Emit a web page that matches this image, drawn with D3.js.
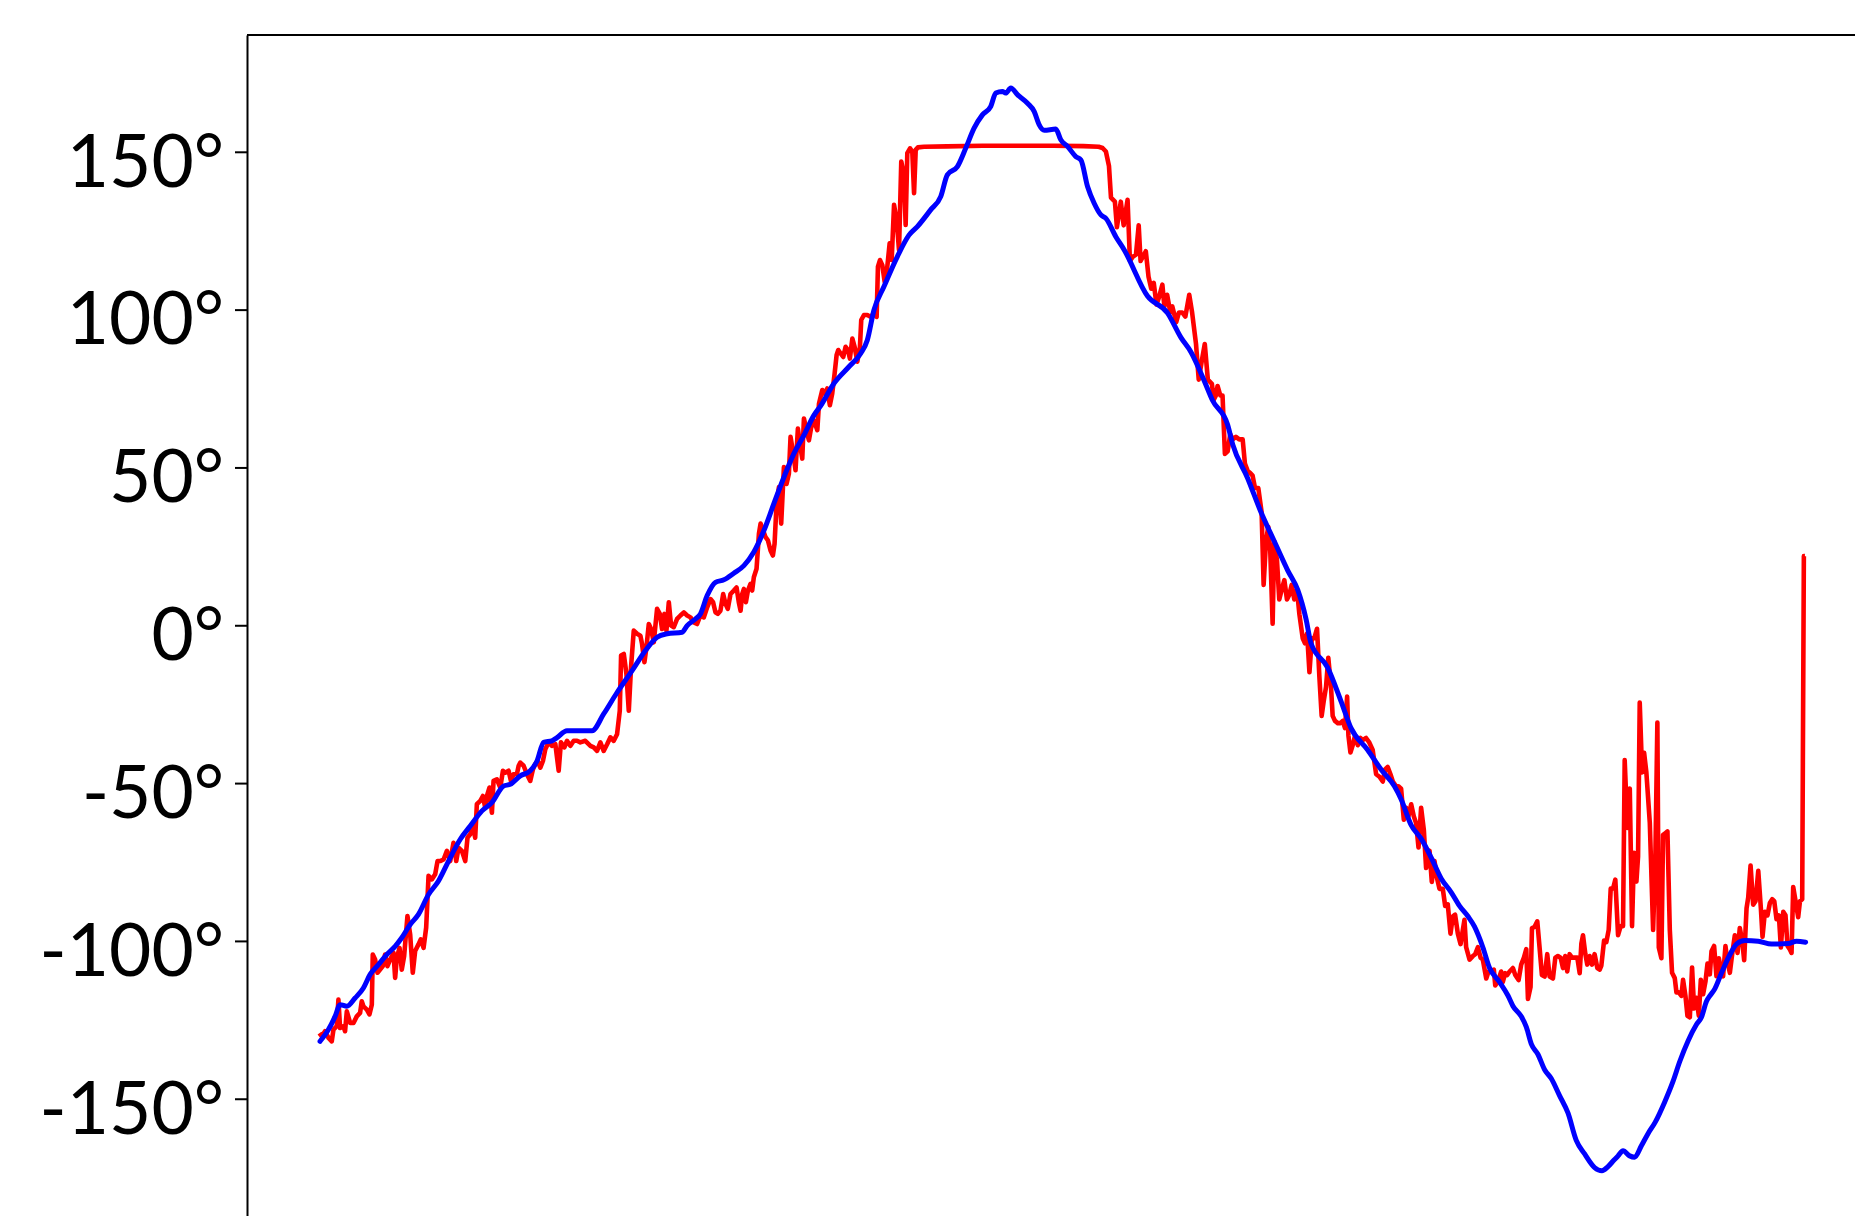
<!DOCTYPE html>
<html>
<head>
<meta charset="utf-8">
<script src="https://cdn.jsdelivr.net/npm/d3@7"></script>
<style>
  body { margin: 0; background: #fff; overflow: hidden; }
</style>
</head>
<body>
<div id="chart"></div>
<script>
// heading angle, raw (red) and filtered (blue), [sample, degrees]
const y_ticks = [-150, -100, -50, 0, 50, 100, 150]

const raw_angle = [
  [0,-129.2],[1.9,-130.2],[4.7,-128.6],[7.6,-130.7],[10.4,-131.8],[11.8,-128.1],[14.6,-127],[16,-118.6],[17.4,-127.6],[20.2,-127],
  [21.6,-128.6],[23.1,-122.3],[25.9,-126],[28.7,-126],[31.5,-123.9],[34.3,-122.8],[35.7,-119.1],[37.1,-120.7],[40,-121.8],[42.2,-123.3],
  [44.2,-120.2],[45,-104.3],[47,-105.9],[49,-110.1],[51.2,-109.1],[53.5,-108],[55.4,-104.3],[57.4,-108],[59.7,-105.9],[62.5,-103.8],
  [63.9,-111.7],[65.3,-105.4],[67.6,-102.2],[69.5,-109.1],[71.5,-104.8],[74.3,-92.1],[76.6,-98],[78.8,-110.1],[80.8,-103.2],[83.6,-101.1],
  [85.6,-99.5],[87.9,-102.2],[90.1,-95.8],[92.1,-79.4],[94.9,-80.5],[97.7,-78.9],[99.7,-74.7],[101.9,-74.7],[104.8,-74.2],[107.6,-71.5],
  [110.4,-74.7],[113.2,-68.9],[115.5,-74.7],[117.4,-70.5],[120.3,-71.5],[123.1,-74.7],[125,-67.3],[127.3,-66.2],[129.6,-63.6],[131.5,-67.3],
  [132.9,-56.7],[135.8,-55.6],[138,-54.1],[140,-57.8],[141.4,-54.1],[143.6,-51.4],[145.6,-59.4],[147,-49.3],[149.8,-48.8],[152.7,-51.4],
  [154.9,-46.1],[156.9,-46.7],[159.7,-46.1],[161.7,-49.3],[163.9,-47.2],[166.7,-47.2],[168.2,-44.5],[169.6,-43.5],[172.4,-44.5],[175.2,-47.2],
  [178,-49.3],[180.3,-45.6],[182.2,-44],[184.2,-43],[186.5,-45.1],[188.7,-43],[190.7,-39.3],[193.5,-37.1],[196.3,-38.2],[199.2,-37.7],
  [202,-46.1],[203.9,-37.1],[206.8,-38.7],[209,-36.6],[211.8,-38.2],[214.7,-36.6],[217.5,-36.6],[220.3,-37.1],[224.5,-36.6],[228.8,-38.2],
  [231.6,-38.7],[234.4,-39.8],[237.2,-37.1],[240,-39.8],[242.9,-37.7],[245.7,-35.5],[248.5,-36.6],[251.3,-34.5],[253.6,-27.1],[254.7,-9.6],
  [257,-9.1],[259.2,-15.4],[261.2,-27.1],[263.1,-13.3],[265.4,-1.7],[268.2,-2.7],[271,-3.3],[272.4,-5.9],[274.4,-11.7],[276.1,-7],
  [278.1,0.4],[280,-1.2],[282.3,-5.4],[285.1,5.2],[287.4,3.6],[289.3,-1.2],[291.3,3.6],[293,-1.7],[295,7.3],[296.9,-0.1],
  [299.2,-0.6],[302,2],[304.8,3.1],[307.7,4.1],[310.5,3.1],[313.3,2.5],[316.1,0.9],[318.9,0.4],[321.7,3.1],[324.6,2.5],
  [327.4,5.7],[330.2,8.3],[332.4,7.3],[334.4,4.1],[336.4,3.6],[338.6,4.6],[340.9,9.9],[342.9,6.8],[344.8,5.2],[347.1,9.9],
  [349.9,11],[352.2,12],[354.1,7.3],[355.6,4.6],[357,9.9],[358.4,11.5],[360.1,7.3],[361.8,11],[364,13.1],[365.4,11],
  [366.8,15.2],[369.1,17.9],[371.1,29],[372.5,32.2],[374.7,30],[376.7,27.9],[378.7,26.9],[380.9,23.7],[382.9,22.1],[384.3,25.8],
  [386,38.5],[388,43.8],[389.9,32.2],[392.2,50.1],[394.4,44.8],[396.4,48],[397.8,59.7],[400.1,54.4],[402,49.1],[404,62.3],
  [405.7,57.5],[407.7,52.8],[409.1,65.5],[411.3,61.8],[413.3,58.6],[415.3,62.8],[417.5,64.9],[420.4,61.8],[421.8,70.2],[424.6,74.5],
  [426.5,73.4],[428.8,75],[431,69.7],[433,73.4],[435,79.7],[436.7,85.6],[438.1,87.2],[440.1,86.1],[442.3,85],[444.3,88.2],
  [446.3,87.2],[447.9,84.5],[450,90.8],[451.9,88.2],[454.2,83.5],[456.4,88.2],[457.5,96.7],[459.8,98.3],[462.6,98.3],[465.4,97.7],
  [468.2,98.8],[470.5,97.7],[471.6,113.6],[473.3,115.7],[475.3,114.1],[477.3,108.8],[479.5,113.6],[481.5,121],[483.2,115.7],[485.2,133.2],
  [487.4,128.4],[489.4,118.9],[491.3,146.9],[493.6,142.7],[495,126.8],[496.4,149.6],[498.7,151.1],[500.6,150.1],[502.1,136.9],[503.5,150.6],
  [505.4,151.4],[510.5,151.6],[530,151.7],[560,151.9],[590,151.9],[620,151.9],[645,151.8],[658,151.6],[661.3,151.2],[664.1,150.1],
  [666.7,145.5],[668.4,135.5],[671.7,134.2],[673.4,126.1],[676.7,134.2],[679.1,126.7],[682.4,134.8],[684.4,115.4],[686.7,116.7],[689.5,117.4],
  [691.8,126.7],[693.4,115.4],[697.8,118.5],[700.1,110.4],[702.4,106.6],[704.5,108.5],[706.8,101.6],[709.1,104.1],[711.8,107.9],[713.5,101],
  [715.8,104.7],[718.5,99.1],[720.2,101],[723.5,96],[725.8,99.1],[728.5,99.1],[731.2,97.8],[734.5,104.7],[736.9,99.1],[740.2,89.1],
  [742.5,77.8],[745.2,84],[747.6,89.1],[750.2,77.8],[753.6,76.5],[755.2,71.5],[757,72.8],[758.4,75.8],[760.7,72.8],[762.6,72.8],
  [764.6,54.3],[766.9,55.1],[769.1,60.5],[771.1,58.9],[773.9,59.7],[776.7,58.9],[779.6,58.9],[781.5,51.2],[783.8,48.9],[786,48.2],
  [788,47.4],[790,43.5],[792.8,43.5],[795.6,35.8],[797.3,12.8],[799.3,26.6],[801.2,31.2],[802.9,23.5],[804.9,0.5],[806.3,26.6],
  [808.6,20.5],[810.5,8.2],[812.5,11.2],[814.8,14.3],[817,8.2],[819,9.7],[821,12.8],[823.2,8.2],[825.5,11.2],[827.5,3.5],
  [830.3,-4.1],[832.2,-5.7],[834,-2.6],[836,-14.9],[838,-4.1],[840.1,-4.1],[842.4,-1.1],[844.4,-16.4],[846.3,-28.7],[848,-24.1],
  [850,-19.5],[851.9,-10.3],[854.2,-19.5],[855.6,-28.7],[857.6,-30.3],[859.9,-31],[862.1,-31],[864.1,-30.3],[866,-32.6],[867.8,-22.6],
  [868.9,-34.9],[870.6,-40.3],[872.5,-38],[874.5,-34.9],[876.8,-38],[879,-35.7],[881,-36.4],[883.8,-35.7],[886.6,-37.2],[889.4,-39.5],
  [892.3,-47.2],[895.1,-48],[897.9,-49.5],[899.9,-45.7],[902.1,-44.9],[904.4,-47.2],[906.4,-49.5],[909.2,-51],[911.1,-51],[913.4,-51.8],
  [915.7,-61.6],[917.6,-57.8],[919.6,-60.5],[921.9,-56.7],[924.1,-60.5],[926.1,-62.7],[928.1,-70.4],[930.3,-57.8],[932.6,-64.9],[934.5,-76.9],
  [937.4,-71.4],[939.3,-81.3],[941.6,-74.7],[943.8,-80.2],[945.8,-83.5],[948.6,-83.5],[950.6,-88.9],[952.8,-88.4],[955.1,-97.7],[957.1,-92.2],
  [959,-91.7],[961.3,-97.7],[963.6,-101],[965.5,-96.6],[966.9,-93.3],[968.3,-102],[971.2,-105.9],[974,-104.8],[976,-104.2],[978.2,-102],
  [980.5,-105.3],[982.4,-105.9],[985.3,-111.9],[987.2,-109.7],[989.5,-109.7],[991.7,-109.1],[992.9,-114.1],[995.1,-113],[997.9,-109.7],[999.3,-113],
  [1001.3,-110.2],[1003,-110.8],[1005,-109.7],[1007.8,-108.6],[1009.8,-110.8],[1012.6,-112.4],[1014.8,-107.5],[1017.1,-105.3],[1019.1,-102.6],[1020.5,-118.4],
  [1022.7,-114.6],[1023.9,-96],[1026.1,-95.5],[1028.4,-93.8],[1030.3,-102],[1032.3,-110.8],[1034.6,-111.3],[1036.8,-104.2],[1038.8,-111.3],[1041.6,-111.9],
  [1043.6,-105.3],[1045.8,-104.8],[1048.1,-105.3],[1050.1,-108.6],[1052,-104.8],[1053.7,-109.7],[1055.7,-104.2],[1057.7,-105.3],[1060,-105.3],[1062.2,-105.3],
  [1064.2,-110.2],[1065.6,-100.9],[1067,-98.2],[1069,-104.2],[1070.6,-107.5],[1072.6,-104.8],[1074.6,-107.5],[1076.8,-104.2],[1079.1,-108.6],[1081.1,-109.1],
  [1082.5,-107.8],[1084.8,-99.9],[1086.7,-100.4],[1088.7,-96.5],[1090.4,-83.4],[1092.4,-83.4],[1094.3,-80.6],[1096.6,-98.2],[1098.8,-95.3],[1100.8,-95.3],
  [1102.2,-42.7],[1104.5,-64.2],[1106.5,-51.7],[1108.4,-95.3],[1110.1,-72.1],[1112.1,-81.2],[1113.5,-73.2],[1114.9,-24.5],[1116.9,-46.6],[1118.6,-40.4],
  [1120.5,-46.6],[1123.4,-62.5],[1126.2,-96.5],[1128.1,-73.8],[1129.8,-30.8],[1131,-102.1],[1133.2,-105.5],[1134.6,-66.4],[1136.6,-65.9],[1138.3,-65.3],
  [1140.3,-96.5],[1142.2,-110.1],[1144.5,-111.8],[1145.9,-116.3],[1147.9,-116.3],[1150.1,-117.4],[1151.5,-112.3],[1153.5,-117.4],[1155.2,-123.7],[1157.2,-124.2],
  [1159.1,-108.4],[1160.8,-121.4],[1162.8,-118],[1164.8,-123.7],[1166.5,-112.3],[1168.4,-116.9],[1170.4,-112.9],[1172.1,-107.2],[1174.1,-110.6],[1175.5,-103.3],
  [1177.7,-101.6],[1179.7,-111.2],[1181.7,-105.5],[1183.4,-108.9],[1185.3,-111.2],[1187.3,-101.6],[1189,-106.7],[1191,-110.1],[1192.9,-104.4],[1195.2,-98.2],
  [1197.5,-103.8],[1199.4,-95.9],[1201.4,-99.9],[1203.1,-106.1],[1205.1,-89.7],[1206.5,-86.3],[1208.5,-76.1],[1210.7,-88.5],[1212.7,-87.4],[1215,-77.8],
  [1217.2,-89.7],[1218.6,-98.7],[1220.6,-90.8],[1222.8,-91.9],[1224.8,-88],[1226.8,-86.8],[1228.5,-87.4],[1230.4,-93.1],[1232.4,-91.9],[1234.1,-102.1],
  [1236.1,-90.8],[1238,-91.9],[1239.7,-101.6],[1241.7,-102.7],[1243.1,-103.8],[1244.5,-82.9],[1246.5,-87.4],[1248.7,-92.5],[1250.2,-87.4],[1252.1,-86.8],
  [1253.5,21.9],[1254.4,21.9]
]

const filtered_angle = [
  [0.5,-131.8],[7.6,-128.1],[13.2,-123.9],[17.4,-120.2],[23.1,-120.7],[30.1,-118.1],[37.1,-114.9],[42.8,-110.6],[49.8,-107.5],[56.9,-104.3],
  [63.9,-101.7],[69.5,-99],[76.6,-94.8],[83.6,-91.6],[92.1,-85.3],[100.5,-81],[109,-74.7],[118.9,-67.8],[127.3,-63.6],[137.2,-58.8],
  [145.6,-56.2],[155.5,-50.9],[161.1,-50.4],[169.6,-47.7],[178,-46.1],[183.7,-43],[189.3,-37.1],[196.3,-36.6],[200.6,-35.6],[209,-33.4],
  [230.2,-33.4],[240,-28.1],[251.3,-21.3],[264,-14.4],[275.3,-8],[285.1,-3.8],[293.6,-2.7],[306.2,-2.2],[310.5,-0.1],[317.5,2],
  [321.7,3.6],[327.4,9.4],[334.4,13.6],[341.5,14.4],[349.9,16.5],[358.4,18.9],[366.8,23.2],[375.3,30],[383.7,38.5],[392.2,46.9],
  [400.6,54.4],[409.1,60.2],[417.5,66.5],[423.2,69.5],[434.4,76.6],[447.1,81.9],[457,86.1],[462.6,90.3],[468.2,99.8],[476.7,107.3],
  [488,116.8],[497.8,123.6],[504.9,126.3],[516.1,131.6],[524.6,135.8],[530.2,142.7],[538.7,145.3],[545.7,151.1],[552.8,157.5],[559.8,161.7],
  [566.9,164.4],[571.1,168.6],[576.7,169.1],[579.5,168.6],[583.8,170.2],[589.4,168.1],[597.9,165.4],[603.5,162.8],[607.7,158.6],[612,156.8],
  [621.8,157.2],[626,153.8],[631.7,151.7],[638.7,148.5],[643,147.4],[648.6,139],[654.2,133.7],[659.9,130],[664.1,128.9],[672.5,123.1],
  [679.6,118.9],[699.2,104.3],[716.2,98.9],[727.4,91.2],[735.9,86.6],[747.2,77.4],[754.2,71.2],[766.9,63.5],[771.1,57.4],[783.8,46.6],
  [795.1,35.8],[806.3,26.6],[817.6,17.4],[826.1,11.2],[833.1,2],[837.3,-5.7],[851.4,-13.4],[862.7,-24.1],[871.1,-32.6],[885.2,-39.5],
  [896.5,-45.7],[907.8,-51],[913.4,-55.1],[921.9,-63.3],[930.3,-67.6],[938.8,-73.6],[947.2,-80.2],[955.7,-84.6],[962.7,-88.9],[969.8,-92.2],
  [975.4,-95.5],[982.4,-102],[988.1,-108.6],[996.5,-113],[1003.6,-117.3],[1007.8,-120.6],[1014.8,-123.9],[1019.1,-127.2],[1023.3,-132.6],[1028.9,-135.9],
  [1034.6,-140.8],[1040.2,-143.6],[1047.2,-149],[1054.3,-154.5],[1061.3,-163.2],[1068.4,-167.5],[1076.8,-171.8],[1083,-172.8],[1088.1,-171.5],[1093,-169.5],
  [1096.6,-168.1],[1100.8,-166.5],[1106.4,-168.1],[1110.6,-168.5],[1116.3,-164.9],[1122,-161],[1128,-157.4],[1136,-151],[1143,-144.5],[1148.7,-138.2],
  [1155.8,-131.6],[1162.8,-126.5],[1167,-124.2],[1171.3,-119.1],[1174.1,-117.4],[1178.3,-115.2],[1184,-110.1],[1191,-104.4],[1196.6,-101],[1203.7,-99.9],
  [1215,-100.1],[1226.2,-101],[1240.3,-100.8],[1247.3,-100.1],[1255,-100.4]
]

const width = 1855,
      height = 1216,
      x_domain = [-61.2, 1317.8],
      y_domain = [-190, 187]

const margin = {left: 247, top: 35}
const plot_w = 1633, plot_h = 1190

const svg = d3.select('#chart').append('svg')
  .attr('width', width)
  .attr('height', height)

const x = d3.scaleLinear().domain(x_domain).range([margin.left, margin.left + plot_w])
const y = d3.scaleLinear().domain(y_domain).range([margin.top + plot_h, margin.top])

const raw_line = d3.line()
  .x(d => x(d[0]))
  .y(d => y(d[1]))

// filtered trace is smooth in the original, so draw it with a monotone curve
const smooth_line = d3.line()
  .curve(d3.curveMonotoneX)
  .x(d => x(d[0]))
  .y(d => y(d[1]))

svg.append('path')
  .datum(raw_angle)
  .attr('d', raw_line)
  .attr('fill', 'none')
  .attr('stroke', '#ff0000')
  .attr('stroke-width', 4.6)
  .attr('stroke-linejoin', 'round')

svg.append('path')
  .datum(filtered_angle)
  .attr('d', smooth_line)
  .attr('fill', 'none')
  .attr('stroke', '#0000ff')
  .attr('stroke-width', 5)
  .attr('stroke-linejoin', 'round')
  .attr('stroke-linecap', 'round')

// spines
svg.append('line')
  .attr('x1', margin.left).attr('x2', margin.left + plot_w)
  .attr('y1', margin.top).attr('y2', margin.top)
  .attr('stroke', '#000').attr('stroke-width', 2)

const y_axis = d3.axisLeft(y)
  .tickValues(y_ticks)
  .tickFormat(d => d + '°')
  .tickSize(12)
  .tickSizeOuter(0)
  .tickPadding(11)

const gy = svg.append('g')
  .attr('transform', 'translate(' + margin.left + ',0)')
  .call(y_axis)

gy.select('.domain').attr('stroke-width', 2)
gy.selectAll('.tick line').attr('stroke-width', 2)
gy.selectAll('.tick text')
  .attr('dy', '0.47em')
  .style('font-family', 'Lato, sans-serif')
  .style('font-size', '73px')
  .attr('fill', '#000')
</script>
</body>
</html>
